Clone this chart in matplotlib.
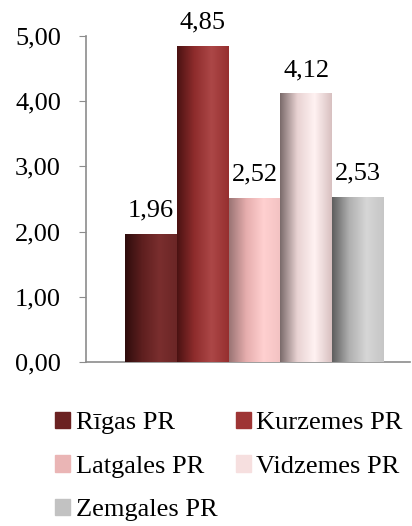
import matplotlib.pyplot as plt
import numpy as np
from matplotlib.colors import LinearSegmentedColormap

# dati
regions = ["Rīgas PR", "Kurzemes PR", "Latgales PR", "Vidzemes PR", "Zemgales PR"]
values = [1.96, 4.85, 2.52, 4.12, 2.53]
labels = ["1,96", "4,85", "2,52", "4,12", "2,53"]
yticks = [0, 1, 2, 3, 4, 5]
ytick_labels = ["0,00", "1,00", "2,00", "3,00", "4,00", "5,00"]

base_colors = ["#6b2222", "#9e3535", "#eab5b5", "#f6dfdf", "#c2c2c2"]
# gradient: tumšāks kreisais mala -> gaišs -> nedaudz tumšāks labajā malā
grad_colors = [
    ["#2e0c0c", "#5e1f1f", "#7a2e2e", "#6b2626"],
    ["#4a1212", "#8e2c2c", "#ac4747", "#962f2f"],
    ["#9a7474", "#e6adad", "#ffd0d0", "#f2c2c2"],
    ["#7a6a6a", "#e8d2d2", "#fff2f2", "#d8c0c0"],
    ["#5e5e5e", "#b0b0b0", "#d6d6d6", "#c6c6c6"],
]

plt.rcParams["font.family"] = ["Liberation Serif", "DejaVu Serif"]
fs = 19

fig = plt.figure(figsize=(4.12, 5.26), dpi=100)
ax = fig.add_axes([0.2087, 0.3118, 0.7863, 0.6198])

x = np.arange(len(regions))
bars = ax.bar(x, values, width=1.0, color=base_colors, label=regions, zorder=2)

# gradienta pārklājums katram stabiņam
grad = np.linspace(0, 1, 256).reshape(1, -1)
for b, cols in zip(bars, grad_colors):
    cmap = LinearSegmentedColormap.from_list("g", cols)
    x0, y0 = b.get_x(), b.get_y()
    im = ax.imshow(grad, cmap=cmap, aspect="auto", zorder=3,
                   extent=[x0, x0 + b.get_width(), y0, y0 + b.get_height()])
    im.set_clip_path(b)

for xi, v, lab in zip(x, values, labels):
    ax.annotate(lab, (xi, v), xytext=(0, 12.5), textcoords="offset points",
                ha="center", va="baseline", fontsize=fs)

ax.set_xlim(-1.25, 5.0)
ax.set_ylim(0, 5)
ax.set_yticks(yticks)
ax.set_yticklabels(ytick_labels, fontsize=fs)
ax.set_xticks([])
ax.tick_params(axis="y", length=5, color="#8c8c8c", pad=13)
for s in ["top", "right"]:
    ax.spines[s].set_visible(False)
for s in ["left", "bottom"]:
    ax.spines[s].set_color("#8c8c8c")
    ax.spines[s].set_linewidth(1.2)

# leģenda pa rindām
order = [0, 2, 4, 1, 3]
handles = [plt.Rectangle((0, 0), 1, 1, color=base_colors[i]) for i in order]
fig.legend(handles, [regions[i] for i in order], ncol=2, loc="upper left",
           bbox_to_anchor=(0.102, 0.242), frameon=False, fontsize=fs,
           handlelength=0.57, handleheight=0.57, handletextpad=0.2,
           labelspacing=0.8, columnspacing=0.7, borderpad=0)

fig.savefig("out.png", dpi=100)
